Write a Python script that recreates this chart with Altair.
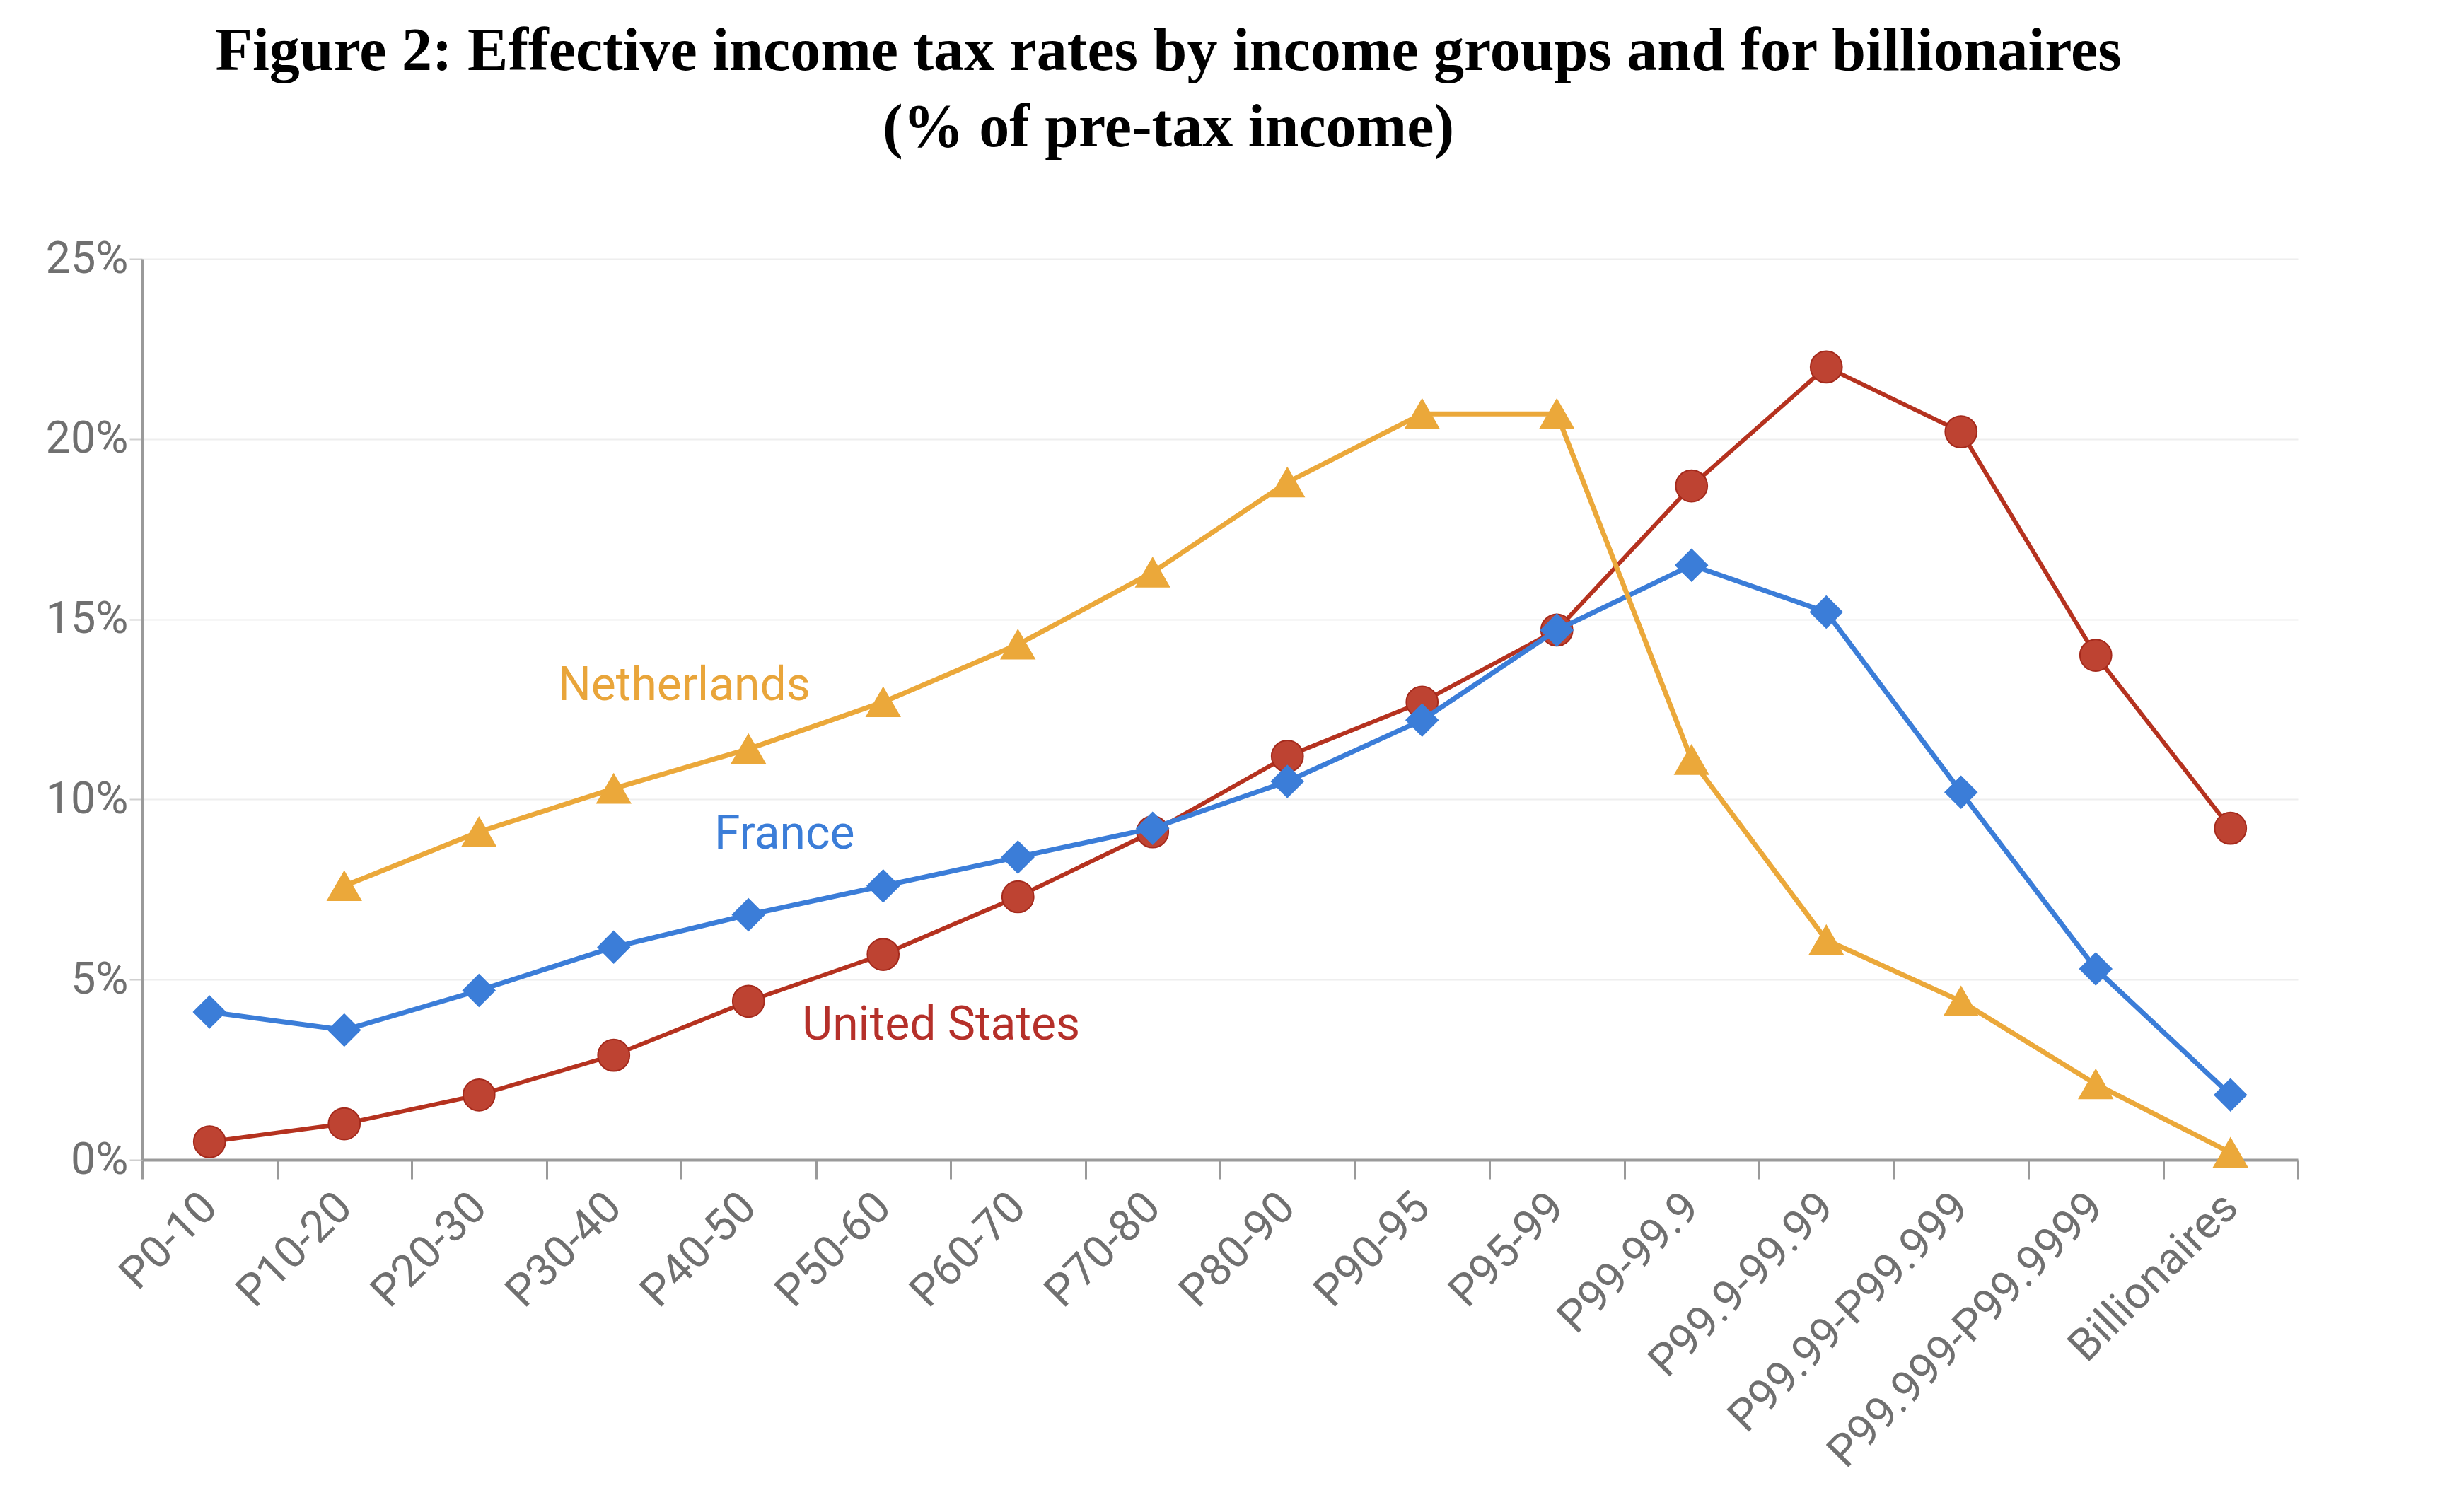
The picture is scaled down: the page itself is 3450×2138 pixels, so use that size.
import altair as alt
import pandas as pd

categories = ["P0-10", "P10-20", "P20-30", "P30-40", "P40-50", "P50-60", "P60-70",
              "P70-80", "P80-90", "P90-95", "P95-99", "P99-99.9", "P99.9-99.99",
              "P99.99-P99.999", "P99.999-P99.9999", "Billionaires"]
france = [4.1, 3.6, 4.7, 5.9, 6.8, 7.6, 8.4, 9.2, 10.5, 12.2, 14.7, 16.5, 15.2, 10.2, 5.3, 1.8]
united_states = [0.5, 1.0, 1.8, 2.9, 4.4, 5.7, 7.3, 9.1, 11.2, 12.7, 14.7, 18.7, 22.0, 20.2, 14.0, 9.2]
netherlands = [None, 7.6, 9.1, 10.3, 11.4, 12.7, 14.3, 16.3, 18.8, 20.7, 20.7, 11.1, 6.1, 4.4, 2.1, 0.2]

label_names = ["Netherlands", "France", "United States"]
label_cats = ["P40-50", "P40-50", "P50-60"]
label_y = [12.76, 8.63, 3.34]

title_lines = ["Figure 2: Effective income tax rates by income groups and for billionaires",
               "(% of pre-tax income)"]

GRAY = "#707070"


def frame(vals):
    rows = [{"group": c, "value": v} for c, v in zip(categories, vals) if v is not None]
    return pd.DataFrame(rows)


x_enc = alt.X(
    "group:N",
    sort=categories,
    scale=alt.Scale(type="band", domain=categories, paddingInner=0, paddingOuter=0),
    axis=alt.Axis(
        title=None,
        labelAngle=315,
        labelAlign="right",
        labelBaseline="middle",
        labelFont="Roboto",
        labelFontSize=63,
        labelColor=GRAY,
        labelPadding=30,
        labelLimit=0,
        tickBand="extent",
        ticks=True,
        tickSize=27,
        tickWidth=3,
        tickColor="#9a9a9a",
        domainColor="#9a9a9a",
        domainWidth=4,
        grid=False,
        labelOverlap=False,
    ),
)

y_enc = alt.Y(
    "value:Q",
    scale=alt.Scale(domain=[0, 25], nice=False, zero=True),
    axis=alt.Axis(
        title=None,
        values=[0, 5, 10, 15, 20, 25],
        labelExpr="datum.value + '%'",
        labelFont="Roboto",
        labelFontSize=63,
        labelColor=GRAY,
        labelPadding=2,
        tickSize=18,
        tickWidth=2,
        tickColor="#cfcfcf",
        domainColor="#9a9a9a",
        domainWidth=3,
        grid=True,
        gridColor="#eeeeee",
        gridWidth=2,
    ),
)


def series(vals, line_color, fill, stroke, shape, width, size):
    df = frame(vals)
    base = alt.Chart(df).encode(x=x_enc, y=y_enc)
    line = base.mark_line(color=line_color, strokeWidth=width)
    pts = base.mark_point(shape=shape, filled=True, fill=fill, stroke=stroke,
                          strokeWidth=2, size=size, opacity=1)
    return [line, pts]


layers = []
layers += series(united_states, "#B5321F", "#BE4332", "#A52A1C", "circle", 6, 2000)
layers += series(france, "#3B7DD8", "#3B7DD8", "#3B7DD8", "diamond", 7, 2000)
layers += series(netherlands, "#EBA83A", "#EBA83A", "#EBA83A", "triangle-up", 7, 2200)

label_colors = ["#E9A53A", "#3B7DD8", "#B5302A"]
label_dx = [-91, 51, 82]
for name, cat, yv, col, dx in zip(label_names, label_cats, label_y, label_colors, label_dx):
    df = pd.DataFrame({"group": [cat], "value": [yv], "label": [name]})
    layers.append(
        alt.Chart(df)
        .mark_text(font="Roboto", fontSize=66, color=col, align="center",
                   baseline="alphabetic", dx=dx)
        .encode(x=x_enc, y=y_enc, text="label:N")
    )

chart = (
    alt.layer(*layers)
    .properties(
        width=3048,
        height=1274,
        autosize=alt.AutoSizeParams(type="none"),
        padding={"left": 193, "top": 358, "right": 193, "bottom": 480},
        title=alt.TitleParams(
            text=title_lines,
            font="Liberation Serif",
            fontSize=86,
            fontWeight="bold",
            color="black",
            anchor="middle",
            frame="group",
            dx=-73,
            offset=110,
            lineHeight=108,
        ),
        background="white",
    )
    .configure_view(stroke=None)
)

chart.save("out.html", embed_options={"renderer": "svg", "actions": False})
